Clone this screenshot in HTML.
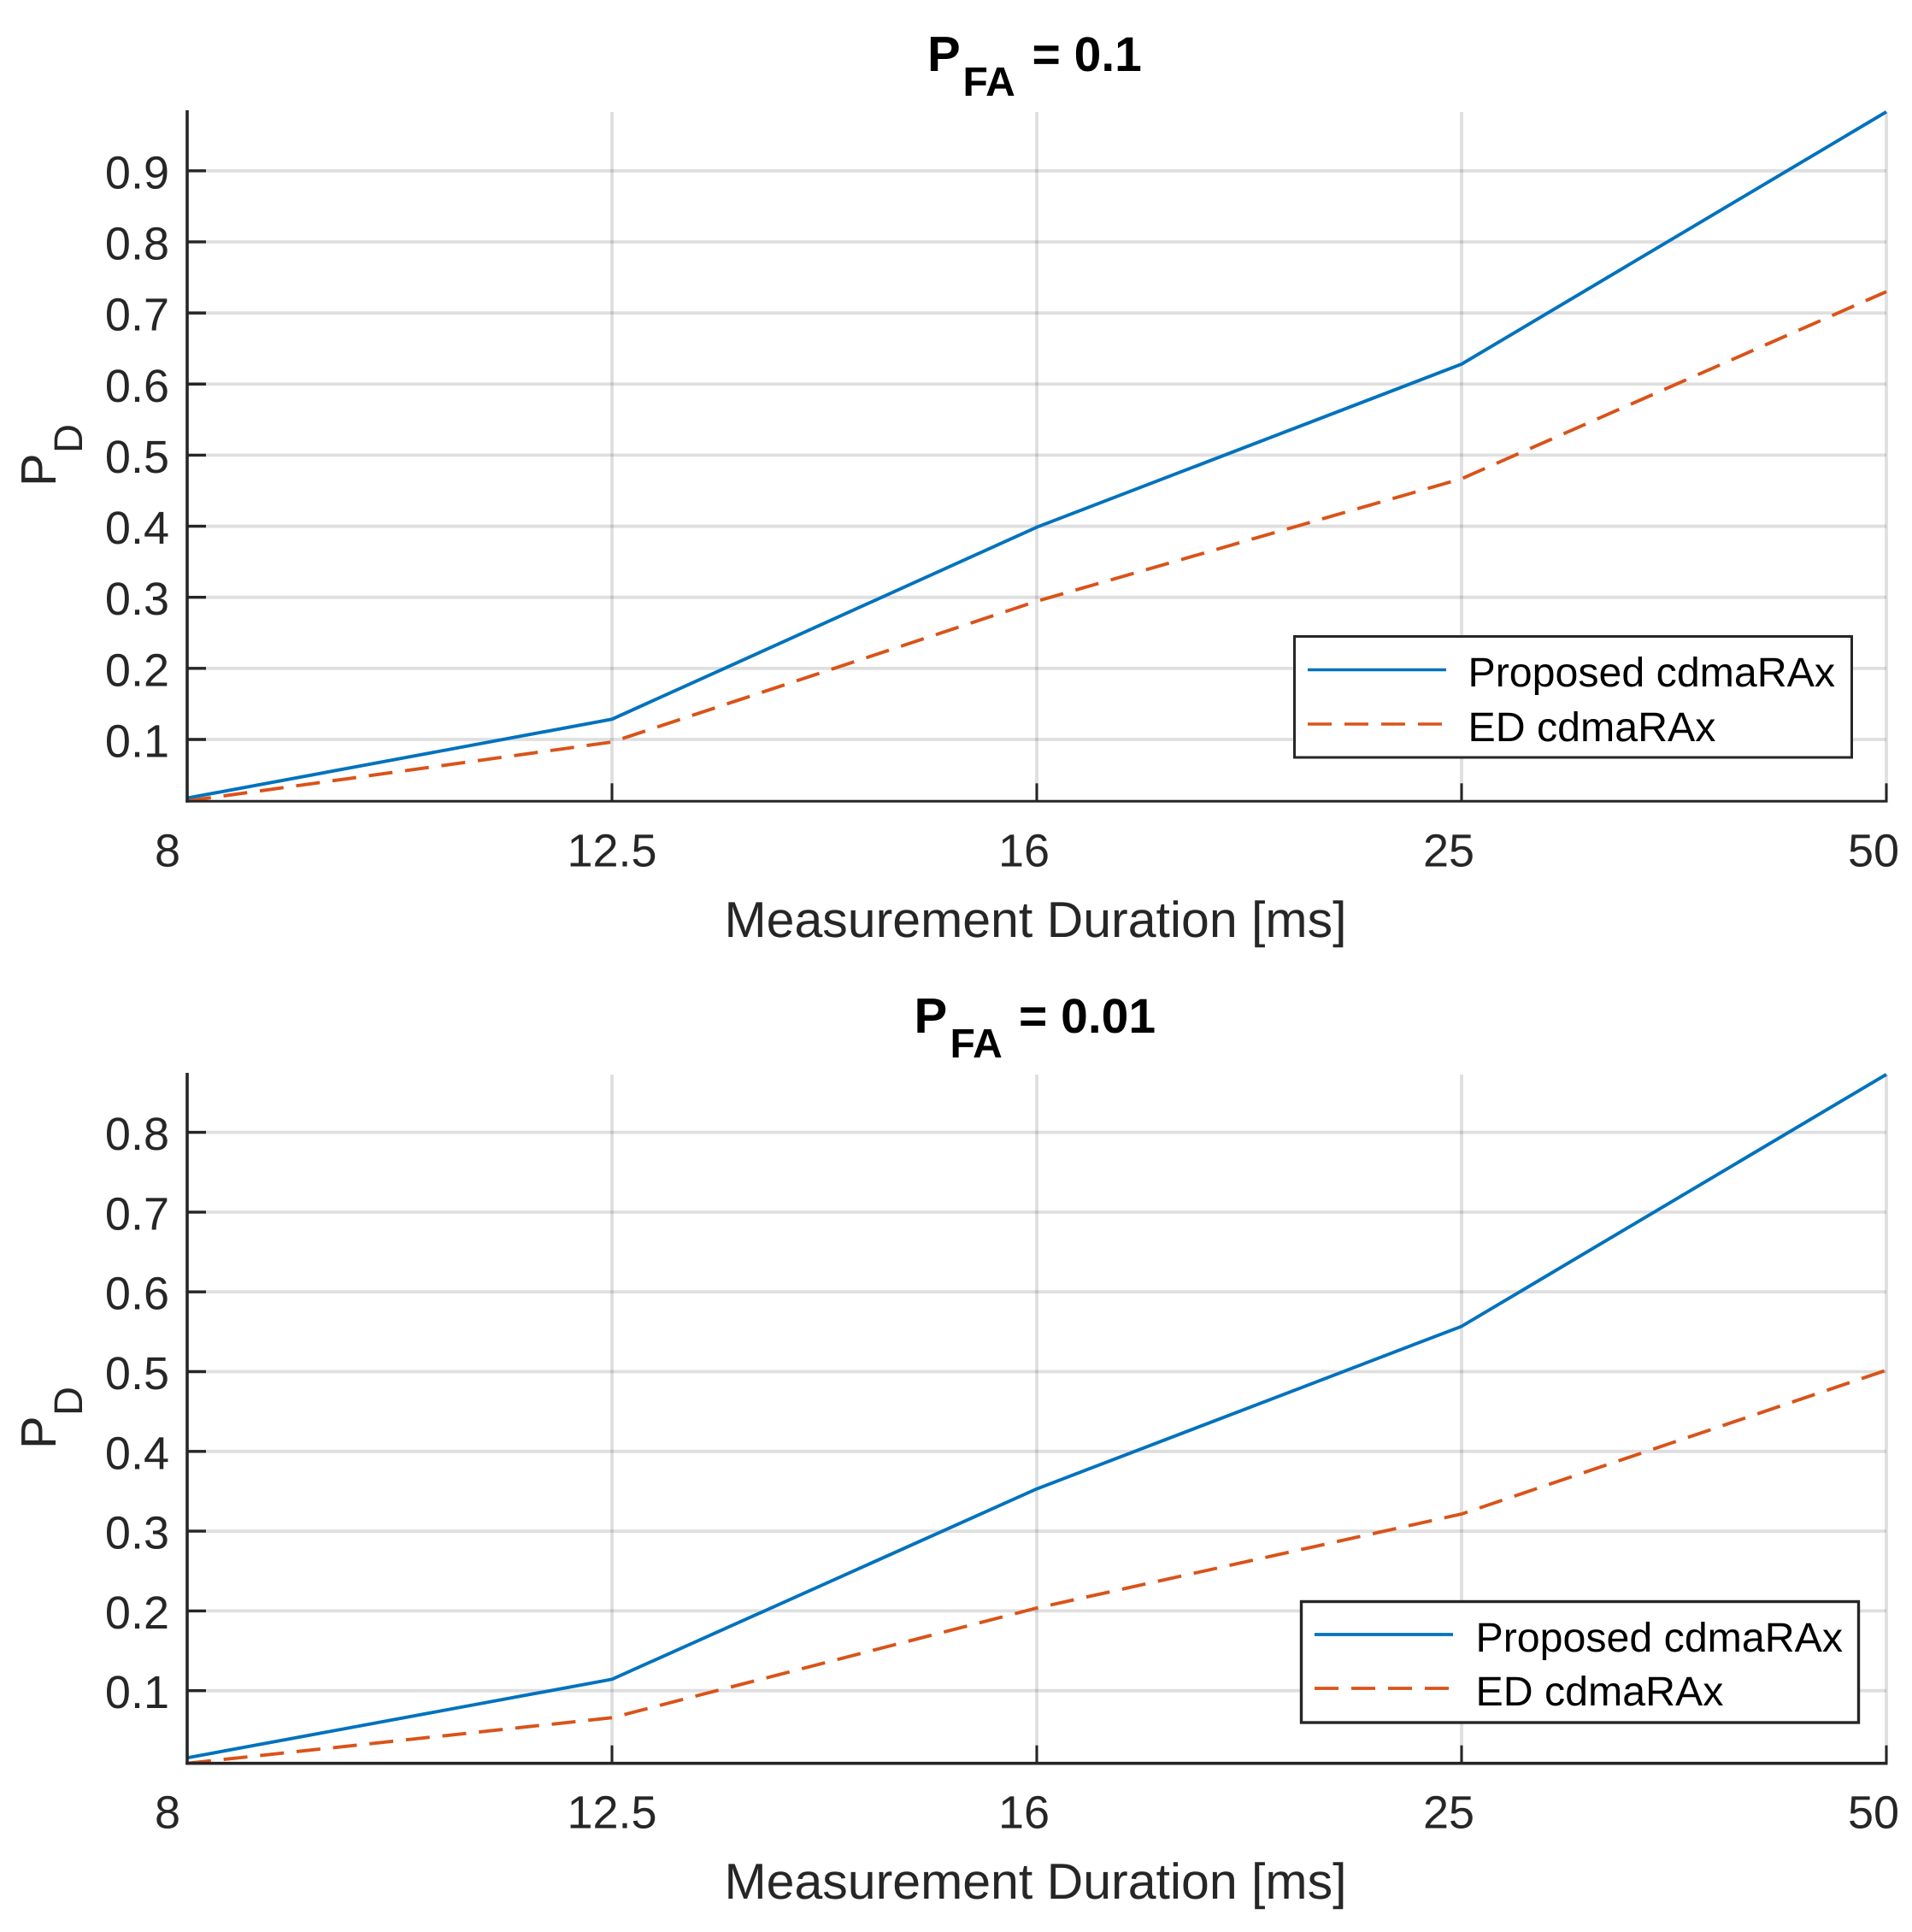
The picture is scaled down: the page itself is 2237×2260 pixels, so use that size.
<!DOCTYPE html>
<html lang="en">
<head>
<meta charset="utf-8">
<title>PD versus Measurement Duration</title>
<style>
  html, body { margin: 0; padding: 0; background: #ffffff; }
  svg { display: block; font-family: "Liberation Sans", Arial, sans-serif; text-rendering: geometricPrecision; }
</style>
</head>
<body>
<svg id="figure" xmlns="http://www.w3.org/2000/svg" width="2237" height="2260" viewBox="0 0 2237 2260">
  <rect x="0" y="0" width="2237" height="2260" fill="#ffffff"/>

  <g id="panel-top"></g>
  <g id="panel-bottom"></g>

  <g font-weight="700" fill="#000000">
    <text x="1085" y="83" font-size="58">P</text>
    <text x="1126.5" y="112" font-size="48">FA</text>
    <text x="1207.5" y="83" font-size="57">= 0.1</text>
  </g>
  <g font-weight="700" fill="#000000">
    <text x="1069.5" y="1208" font-size="58">P</text>
    <text x="1111.5" y="1237" font-size="48">FA</text>
    <text x="1192" y="1208" font-size="57">= 0.01</text>
  </g>

  <g fill="#262626">
    <text transform="translate(65,569) rotate(-90)" font-size="58">P</text>
    <text transform="translate(96,530) rotate(-90)" font-size="47">D</text>
  </g>
  <g fill="#262626">
    <text transform="translate(65,1695) rotate(-90)" font-size="58">P</text>
    <text transform="translate(96,1656) rotate(-90)" font-size="47">D</text>
  </g>

  <text x="1211.5" y="1096" font-size="59" fill="#262626" text-anchor="middle">Measurement Duration [ms]</text>
  <text x="1211.5" y="2221" font-size="59" fill="#262626" text-anchor="middle">Measurement Duration [ms]</text>

  <g>
    <rect x="1514.5" y="744.5" width="652" height="141.5" fill="#ffffff" stroke="#262626" stroke-width="3"/>
    <line x1="1530" y1="783.5" x2="1692" y2="783.5" stroke="#0072BD" stroke-width="3.4"/>
    <text x="1717.5" y="803" font-size="48.3" fill="#000000">Proposed cdmaRAx</text>
    <line x1="1530" y1="847" x2="1692" y2="847" stroke="#D95319" stroke-width="3.4" stroke-dasharray="28 15"/>
    <text x="1717.5" y="867" font-size="48.3" fill="#000000">ED cdmaRAx</text>
  </g>
  <g>
    <rect x="1522.5" y="1873.5" width="652" height="141.5" fill="#ffffff" stroke="#262626" stroke-width="3.4"/>
    <line x1="1538" y1="1912" x2="1700" y2="1912" stroke="#0072BD" stroke-width="3.8"/>
    <text x="1726.5" y="1932" font-size="48.3" fill="#000000">Proposed cdmaRAx</text>
    <line x1="1538" y1="1975" x2="1700" y2="1975" stroke="#D95319" stroke-width="3.8" stroke-dasharray="28 15"/>
    <text x="1726.5" y="1995" font-size="48.3" fill="#000000">ED cdmaRAx</text>
  </g>
</svg>

<script>
// Chart data
const durationLabels = ["8", "12.5", "16", "25", "50"];
const yTicksTop = [0.1, 0.2, 0.3, 0.4, 0.5, 0.6, 0.7, 0.8, 0.9];
const yTicksBottom = [0.1, 0.2, 0.3, 0.4, 0.5, 0.6, 0.7, 0.8];
const proposedTop = [0.0175, 0.1285, 0.3986, 0.628, 0.983];
const edTop = [0.0135, 0.0964, 0.2945, 0.4668, 0.730];
const proposedBottom = [0.0158, 0.1143, 0.353, 0.5568, 0.8727];
const edBottom = [0.0089, 0.0661, 0.2036, 0.3215, 0.5018];
const yDomainTop = [0.01305, 0.98517];
const yDomainBottom = [0.0089, 0.8746];

const SVG_NS = "http://www.w3.org/2000/svg";
const plotLeft = 219;
const plotRight = 2207;

function make(parent, tag, attrs, text) {
  const el = document.createElementNS(SVG_NS, tag);
  for (const key in attrs) { el.setAttribute(key, attrs[key]); }
  if (text !== undefined) { el.textContent = text; }
  parent.appendChild(el);
  return el;
}

function xScale(index) {
  return plotLeft + index * (plotRight - plotLeft) / (durationLabels.length - 1);
}

function xLabelOffset(label) {
  if (label.length === 1) { return -23; }
  if (label.indexOf(".") >= 0) { return 0; }
  return -15;
}

function polyPoints(values, yScale) {
  return values.map(function (v, i) { return xScale(i).toFixed(2) + "," + yScale(v).toFixed(2); }).join(" ");
}

function drawPanel(group, opts) {
  const top = opts.top, bottom = opts.bottom;
  const domain = opts.domain;
  const yScale = function (v) {
    return bottom - (v - domain[0]) / (domain[1] - domain[0]) * (bottom - top);
  };
  const gridColor = "rgba(38,38,38,0.15)";

  opts.ticks.forEach(function (t) {
    const grid = make(group, "line", { x1: plotLeft, x2: plotRight, y1: yScale(t), y2: yScale(t), stroke: gridColor, "stroke-width": 3.8 });
    
    
  });
  durationLabels.forEach(function (label, i) {
    if (i === 0) { return; }
    const grid = make(group, "line", { x1: xScale(i), x2: xScale(i), y1: top + 2, y2: bottom, stroke: gridColor, "stroke-width": 3.8 });
    
    
  });

  const proposed = make(group, "polyline", { points: polyPoints(opts.proposed, yScale), fill: "none", stroke: "#0072BD", "stroke-width": 3.9, "stroke-linejoin": "round" });
  
  

  const ed = make(group, "polyline", { points: polyPoints(opts.ed, yScale), fill: "none", stroke: "#D95319", "stroke-width": 3.9, "stroke-dasharray": "28 14.9" });
  
  

  const yAxis = make(group, "line", { x1: plotLeft, x2: plotLeft, y1: top, y2: bottom + 1.5, stroke: "#262626", "stroke-width": 3.6 });
  
  

  const xAxis = make(group, "line", { x1: plotLeft - 1.8, x2: plotRight + 1.5, y1: bottom, y2: bottom, stroke: "#262626", "stroke-width": opts.axisWidth });
  
  

  opts.ticks.forEach(function (t) {
    const tick = make(group, "line", { x1: plotLeft, x2: plotLeft + 22, y1: yScale(t), y2: yScale(t), stroke: "#262626", "stroke-width": 3.4 });
    
    
    const lab = make(group, "text", { x: 198, y: yScale(t) + 20.5, "font-size": 54, fill: "#262626", "text-anchor": "end" }, t.toFixed(1));
    
    
  });

  durationLabels.forEach(function (label, i) {
    const tick = make(group, "line", { x1: xScale(i), x2: xScale(i), y1: bottom - 21, y2: bottom, stroke: "#262626", "stroke-width": 3 });
    
    
    const lab = make(group, "text", { x: xScale(i) + xLabelOffset(label), y: bottom + 76, "font-size": 54, fill: "#262626", "text-anchor": "middle" }, label);
    
    
  });
}

drawPanel(document.getElementById("panel-top"), {
  top: 129, bottom: 937.3, domain: yDomainTop, ticks: yTicksTop,
  proposed: proposedTop, ed: edTop, axisWidth: 3
});
drawPanel(document.getElementById("panel-bottom"), {
  top: 1255, bottom: 2062.7, domain: yDomainBottom, ticks: yTicksBottom,
  proposed: proposedBottom, ed: edBottom, axisWidth: 3.6
});
</script>
</body>
</html>
